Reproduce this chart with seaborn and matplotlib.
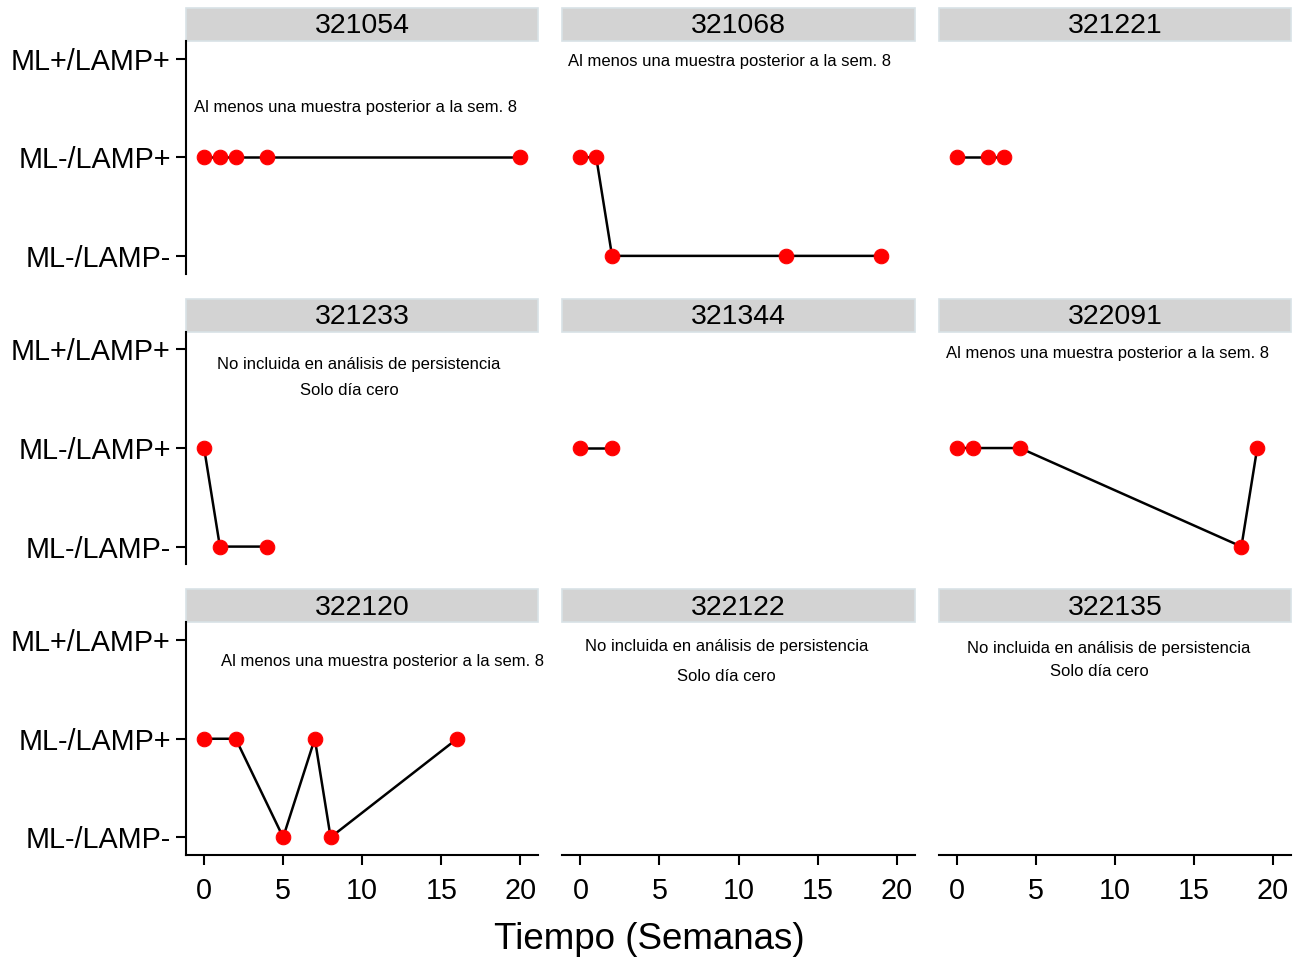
# -*- coding: utf-8 -*-
"""
Evolución del resultado ML/LAMP por paciente a lo largo del tiempo (semanas)
"""

import pandas as pd
import matplotlib
matplotlib.use('Agg')
import matplotlib.pyplot as plt
from matplotlib.patches import Rectangle
import seaborn as sns

# ========== datos ==========
pacientes = ['321054', '321068', '321221', '321233', '321344',
             '322091', '322120', '322122', '322135']
niveles = ['ML-/LAMP-', 'ML-/LAMP+', 'ML+/LAMP+']

paciente = (['321054'] * 5 + ['321068'] * 5 + ['321221'] * 3 + ['321233'] * 3
            + ['321344'] * 2 + ['322091'] * 5 + ['322120'] * 6)
semana = [0, 1, 2, 4, 20,
          0, 1, 2, 13, 19,
          0, 2, 3,
          0, 1, 4,
          0, 2,
          0, 1, 4, 18, 19,
          0, 2, 5, 7, 8, 16]
resultado = ['ML-/LAMP+'] * 5 + \
            ['ML-/LAMP+', 'ML-/LAMP+', 'ML-/LAMP-', 'ML-/LAMP-', 'ML-/LAMP-'] + \
            ['ML-/LAMP+'] * 3 + \
            ['ML-/LAMP+', 'ML-/LAMP-', 'ML-/LAMP-'] + \
            ['ML-/LAMP+'] * 2 + \
            ['ML-/LAMP+', 'ML-/LAMP+', 'ML-/LAMP+', 'ML-/LAMP-', 'ML-/LAMP+'] + \
            ['ML-/LAMP+', 'ML-/LAMP+', 'ML-/LAMP-', 'ML-/LAMP+', 'ML-/LAMP-', 'ML-/LAMP+']

txt_sem8 = 'Al menos una muestra posterior a la sem. 8'
txt_no = 'No incluida en análisis de persistencia'
txt_cero = 'Solo día cero'

df = pd.DataFrame({'paciente': paciente, 'semana': semana, 'resultado': resultado})
df['codigo'] = df['resultado'].map({n: i + 1 for i, n in enumerate(niveles)})

# ========== estilo ==========
sns.set_theme(style='white')
plt.rcParams['font.family'] = ['Liberation Sans', 'DejaVu Sans']
plt.rcParams['axes.linewidth'] = 1.5
plt.rcParams['axes.edgecolor'] = 'black'
plt.rcParams['text.color'] = 'black'

# ========== gráfico ==========
g = sns.FacetGrid(df, col='paciente', col_wrap=3, col_order=pacientes,
                  sharex=True, sharey=True, despine=False, height=3, aspect=1.4)
g.map_dataframe(sns.lineplot, x='semana', y='codigo', estimator=None,
                color='black', lw=1.8, marker='o', markersize=10.5,
                markerfacecolor='red', markeredgecolor='red')
g.set_titles('')
g.set_axis_labels('', '')
g.set(xlim=(-1.14, 21.14), ylim=(0.82, 3.18),
      xticks=[0, 5, 10, 15, 20], yticks=[1, 2, 3])

# notas por panel (posición en coordenadas de datos)
notas = {
    '321054': [(txt_sem8, 9.56, 2.51)],
    '321068': [(txt_sem8, 9.4, 2.97)],
    '321233': [(txt_no, 9.75, 2.85), (txt_cero, 9.2, 2.58)],
    '322091': [(txt_sem8, 9.56, 2.96)],
    '322120': [(txt_sem8, 11.3, 2.78)],
    '322122': [(txt_no, 9.24, 2.94), (txt_cero, 9.24, 2.63)],
    '322135': [(txt_no, 9.6, 2.92), (txt_cero, 9.05, 2.68)],
}

strip_h = 33 / 232
for i, (pid, ax) in enumerate(zip(pacientes, g.axes.flat)):
    fila, col = divmod(i, 3)
    ax.set_title('')
    ax.spines['top'].set_visible(False)
    ax.spines['right'].set_visible(False)
    ax.spines['left'].set_visible(col == 0)
    ax.spines['bottom'].set_visible(fila == 2)
    ax.tick_params(axis='y', left=(col == 0), labelleft=(col == 0),
                   length=7, width=1.5, pad=4, labelsize=20.7, colors='black')
    ax.tick_params(axis='x', bottom=(fila == 2), labelbottom=(fila == 2),
                   length=7, width=1.5, pad=9, labelsize=20.7, colors='black')
    if col == 0:
        ax.set_yticklabels(niveles)
    ax.set_xlabel('')
    ax.set_ylabel('')

    # franja del título
    ax.add_patch(Rectangle((0, 1.0), 1, strip_h, transform=ax.transAxes,
                           facecolor='#D3D3D3', edgecolor='#D8E2E6', lw=1.2,
                           clip_on=False))
    ax.text(0.5, 1 + strip_h / 2 - 0.008, pid, transform=ax.transAxes,
            ha='center', va='center', fontsize=20.5, color='black')

    for texto, x, y in notas.get(pid, []):
        ax.text(x, y, texto, ha='center', va='center', fontsize=12, color='black')

g.figure.set_size_inches(12.93, 9.59)
g.figure.subplots_adjust(left=0.1439, right=0.9985, bottom=0.1084, top=0.9572,
                         wspace=0.068, hspace=0.25)
g.figure.text(0.502, 0.02, 'Tiempo (Semanas)', ha='center', va='center',
              fontsize=26.5, color='black')

g.figure.savefig('out.png', dpi=100)
